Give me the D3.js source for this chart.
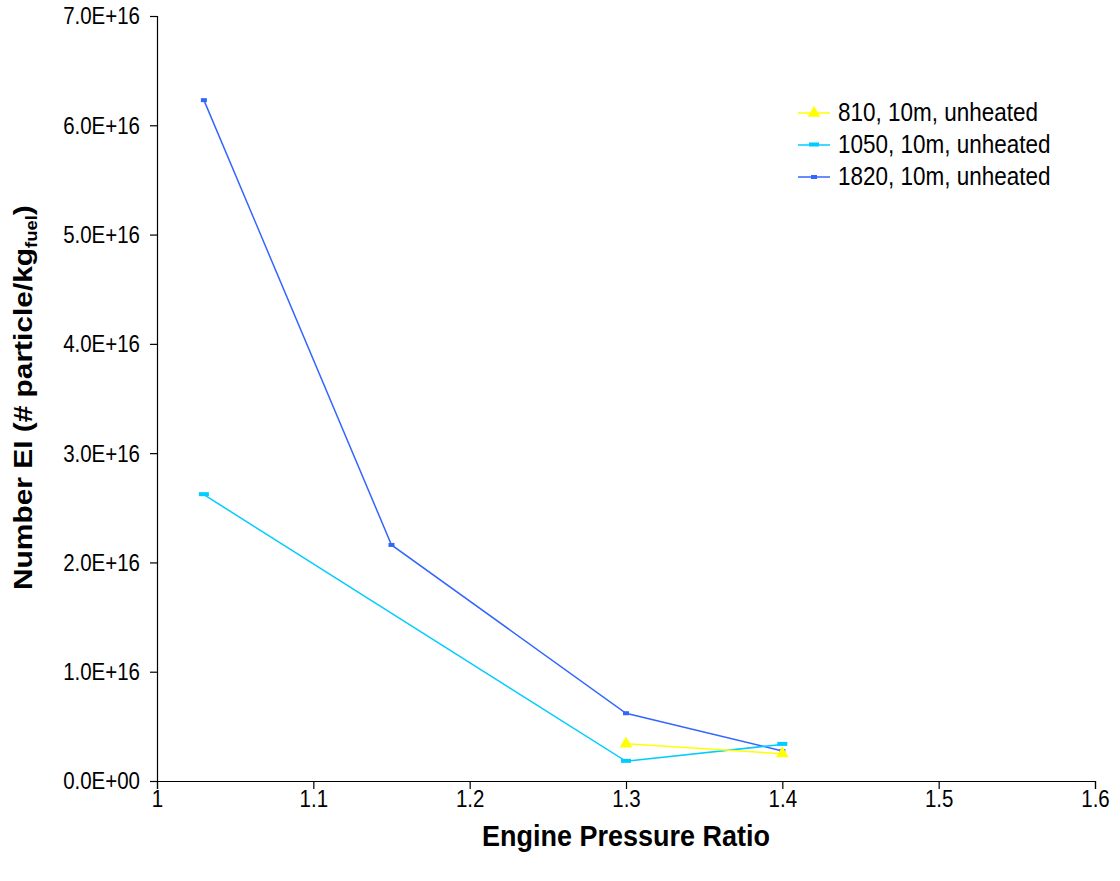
<!DOCTYPE html>
<html><head><meta charset="utf-8">
<script src="https://cdn.jsdelivr.net/npm/d3@7"></script>
<style>body{margin:0;background:#fff;} text{font-family:"Liberation Sans",Arial,sans-serif;}</style>
</head><body>
<svg id="c" width="1120" height="881"></svg>
<script>
const xTicks = [1, 1.1, 1.2, 1.3, 1.4, 1.5, 1.6];
const yTicks = [0, 1e16, 2e16, 3e16, 4e16, 5e16, 6e16, 7e16];
const seriesNames = ["810, 10m, unheated", "1050, 10m, unheated", "1820, 10m, unheated"];
const x810 = [1.3, 1.4];
const y810 = [3.4e15, 2.5e15];
const x1050 = [1.03, 1.3, 1.4];
const y1050 = [2.62e16, 1.8e15, 3.35e15];
const x1820 = [1.03, 1.15, 1.3, 1.4];
const y1820 = [6.23e16, 2.16e16, 6.2e15, 2.75e15];
const colors = ["#FFFF00", "#00CCFF", "#3366FF"];

const svg = d3.select("#c");
const L = 157, R = 1095, T = 16, B = 781;
const x = d3.scaleLinear().domain([1, 1.6]).range([L, R]);
const y = d3.scaleLinear().domain([0, 7e16]).range([B, T]);

const fmt = v => {
  if (v === 0) return "0.0E+00";
  return (v / 1e16).toFixed(1) + "E+16";
};

const gx = svg.append("g").attr("transform", `translate(0,${B})`)
  .call(d3.axisBottom(x).tickValues(xTicks).tickSize(8).tickPadding(0).tickFormat(d => d3.format("")(+d.toFixed(1))));
const gy = svg.append("g").attr("transform", `translate(${L},0)`)
  .call(d3.axisLeft(y).tickValues(yTicks).tickSize(7).tickPadding(10).tickFormat(fmt));
[gx, gy].forEach(g => {
  g.select(".domain").attr("stroke", "#000").attr("stroke-width", 1.2);
  g.selectAll(".tick line").attr("stroke", "#000").attr("stroke-width", 1.2);
  g.selectAll("text").attr("font-size", 20.5).attr("fill", "#000")
    .attr("font-family", "Liberation Sans, Arial, sans-serif")
    .attr("transform", "scale(1,1.2)");
});
gx.selectAll(".tick text").attr("y", 7);

const series = [
  {xs: x810, ys: y810, c: colors[0], m: "tri"},
  {xs: x1050, ys: y1050, c: colors[1], m: "rect"},
  {xs: x1820, ys: y1820, c: colors[2], m: "small"}
];
const line = d3.line().x(d => x(d[0])).y(d => y(d[1]));

function marker(g, cx, cy, s) {
  if (s.m === "tri") {
    g.append("path").attr("d", d3.symbol().type(d3.symbolTriangle).size(70)())
      .attr("transform", `translate(${cx},${cy})`).attr("fill", s.c);
  } else if (s.m === "rect") {
    g.append("rect").attr("x", cx - 5).attr("y", cy - 2.5).attr("width", 10).attr("height", 4).attr("fill", s.c);
  } else {
    g.append("rect").attr("x", cx - 3).attr("y", cy - 2).attr("width", 6).attr("height", 4).attr("fill", s.c);
  }
}

[2, 1, 0].forEach(i => {
  const s = series[i];
  const pts = s.xs.map((v, k) => [v, s.ys[k]]);
  svg.append("path").datum(pts).attr("d", line).attr("fill", "none").attr("stroke", s.c).attr("stroke-width", 1.5);
  const g = svg.append("g");
  pts.forEach(p => marker(g, x(p[0]), y(p[1]), s));
});

// legend
const lg = svg.append("g");
seriesNames.forEach((n, i) => {
  const yy = 113 + i * 32;
  lg.append("line").attr("x1", 798).attr("x2", 830).attr("y1", yy).attr("y2", yy).attr("stroke", series[i].c).attr("stroke-width", 1.5);
  marker(lg, 814, yy, series[i]);
  lg.append("text").attr("transform", `translate(838,${yy + 8}) scale(1,1.15)`)
    .attr("font-size", 22.5).attr("fill", "#000").text(n);
});

// axis titles
svg.append("text").attr("transform", `translate(${(L + R) / 2},846) scale(1,1.1)`).attr("text-anchor", "middle")
  .attr("font-size", 27).attr("font-weight", "bold").text("Engine Pressure Ratio");
const yt = svg.append("text").attr("transform", `translate(32,590) rotate(-90) scale(1.15,1)`)
  .attr("text-anchor", "start").attr("font-size", 26).attr("font-weight", "bold");
yt.append("tspan").text("Number EI (# particle/kg");
yt.append("tspan").attr("font-size", 16).attr("dy", 5).text("fuel");
yt.append("tspan").attr("dy", -5).text(")");
</script>
</body></html>
